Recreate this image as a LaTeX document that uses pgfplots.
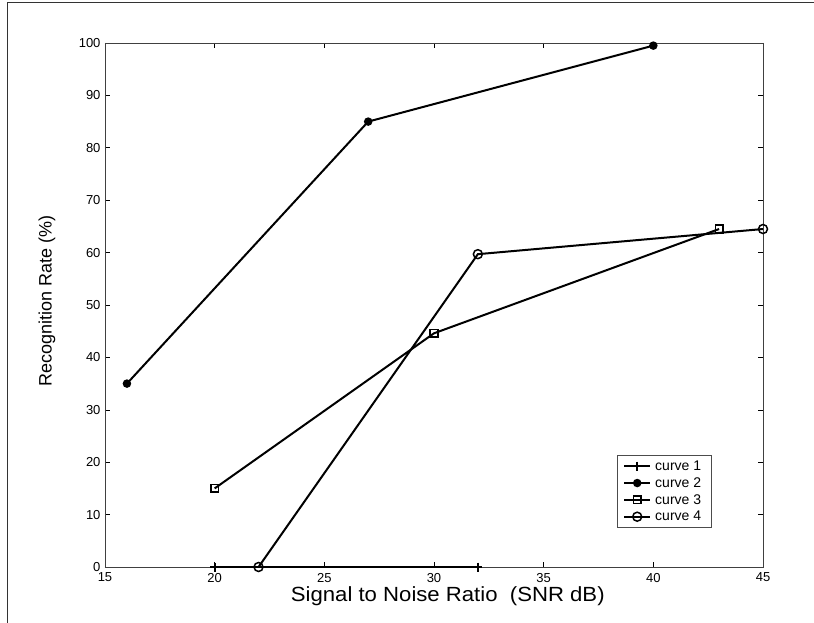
\documentclass[border=0pt]{standalone}
\usepackage{fontspec}
\setmainfont{Liberation Sans}
\newfontfamily\xlabfont[FakeStretch=1.08]{Liberation Sans}
\usepackage{pgfplots}
\pgfplotsset{compat=1.18}
\begin{document}
\begin{tikzpicture}[x=1pt,y=1pt]
\useasboundingbox (-105,-55) rectangle (709,567);
\draw[line width=1pt, black!80] (-97,-60) -- (-97,564) -- (720,564);
\begin{axis}[
  at={(0,0)}, anchor=south west,
  scale only axis, width=658pt, height=524pt,
  xmin=15, xmax=45, ymin=0, ymax=100,
  xtick={15,20,...,45}, ytick={0,10,...,100},
  tick align=inside, major tick length=5pt,
  tick style={black, line width=0.6pt},
  axis line style={black!75, line width=0.7pt},
  /pgf/number format/assume math mode=true,
  ticklabel style={font=\fontsize{13}{15}\selectfont},
  xticklabel style={yshift=-2.5pt},
  yticklabel style={xshift=-1pt},
  xlabel={Signal to Noise Ratio\ \ (SNR dB)},
  ylabel={Recognition Rate (\%)},
  xlabel style={font=\xlabfont\fontsize{20.5}{24}\selectfont, at={(axis description cs:0.521,-0.056)}, anchor=center},
  ylabel style={font=\fontsize{18}{21}\selectfont, at={(axis description cs:-0.088,0.508)}, anchor=center},
  legend style={at={(0.778,0.214)}, anchor=north west, font=\fontsize{14}{16}\selectfont,
    draw=black!70, line width=0.6pt, row sep=1.6pt, inner xsep=6pt, inner ysep=3.5pt,
    nodes={inner xsep=4pt}},
  legend image code/.code={\draw[#1] (0pt,0pt) -- (13pt,0pt) -- (26pt,0pt); \draw[#1] plot coordinates {(13pt,0pt)};},
  legend cell align=left,
  every axis plot/.append style={black, line width=2pt, solid},
]
\addplot[mark=+, mark size=4.5pt] coordinates {(20,0) (32,0)};
\addlegendentry{curve 1}
\addplot[mark=*, mark size=3.2pt] coordinates {(16,35) (27,85) (40,99.5)};
\addlegendentry{curve 2}
\addplot[mark=square, mark size=3.8pt, mark options={line width=1.5pt, fill=white}] coordinates {(20,15) (30,44.6) (43,64.5)};
\addlegendentry{curve 3}
\addplot[mark=o, mark size=4.5pt, mark options={line width=1.5pt, fill=white}] coordinates {(22,0) (32,59.7) (45,64.5)};
\addlegendentry{curve 4}
\end{axis}
\end{tikzpicture}
\end{document}
